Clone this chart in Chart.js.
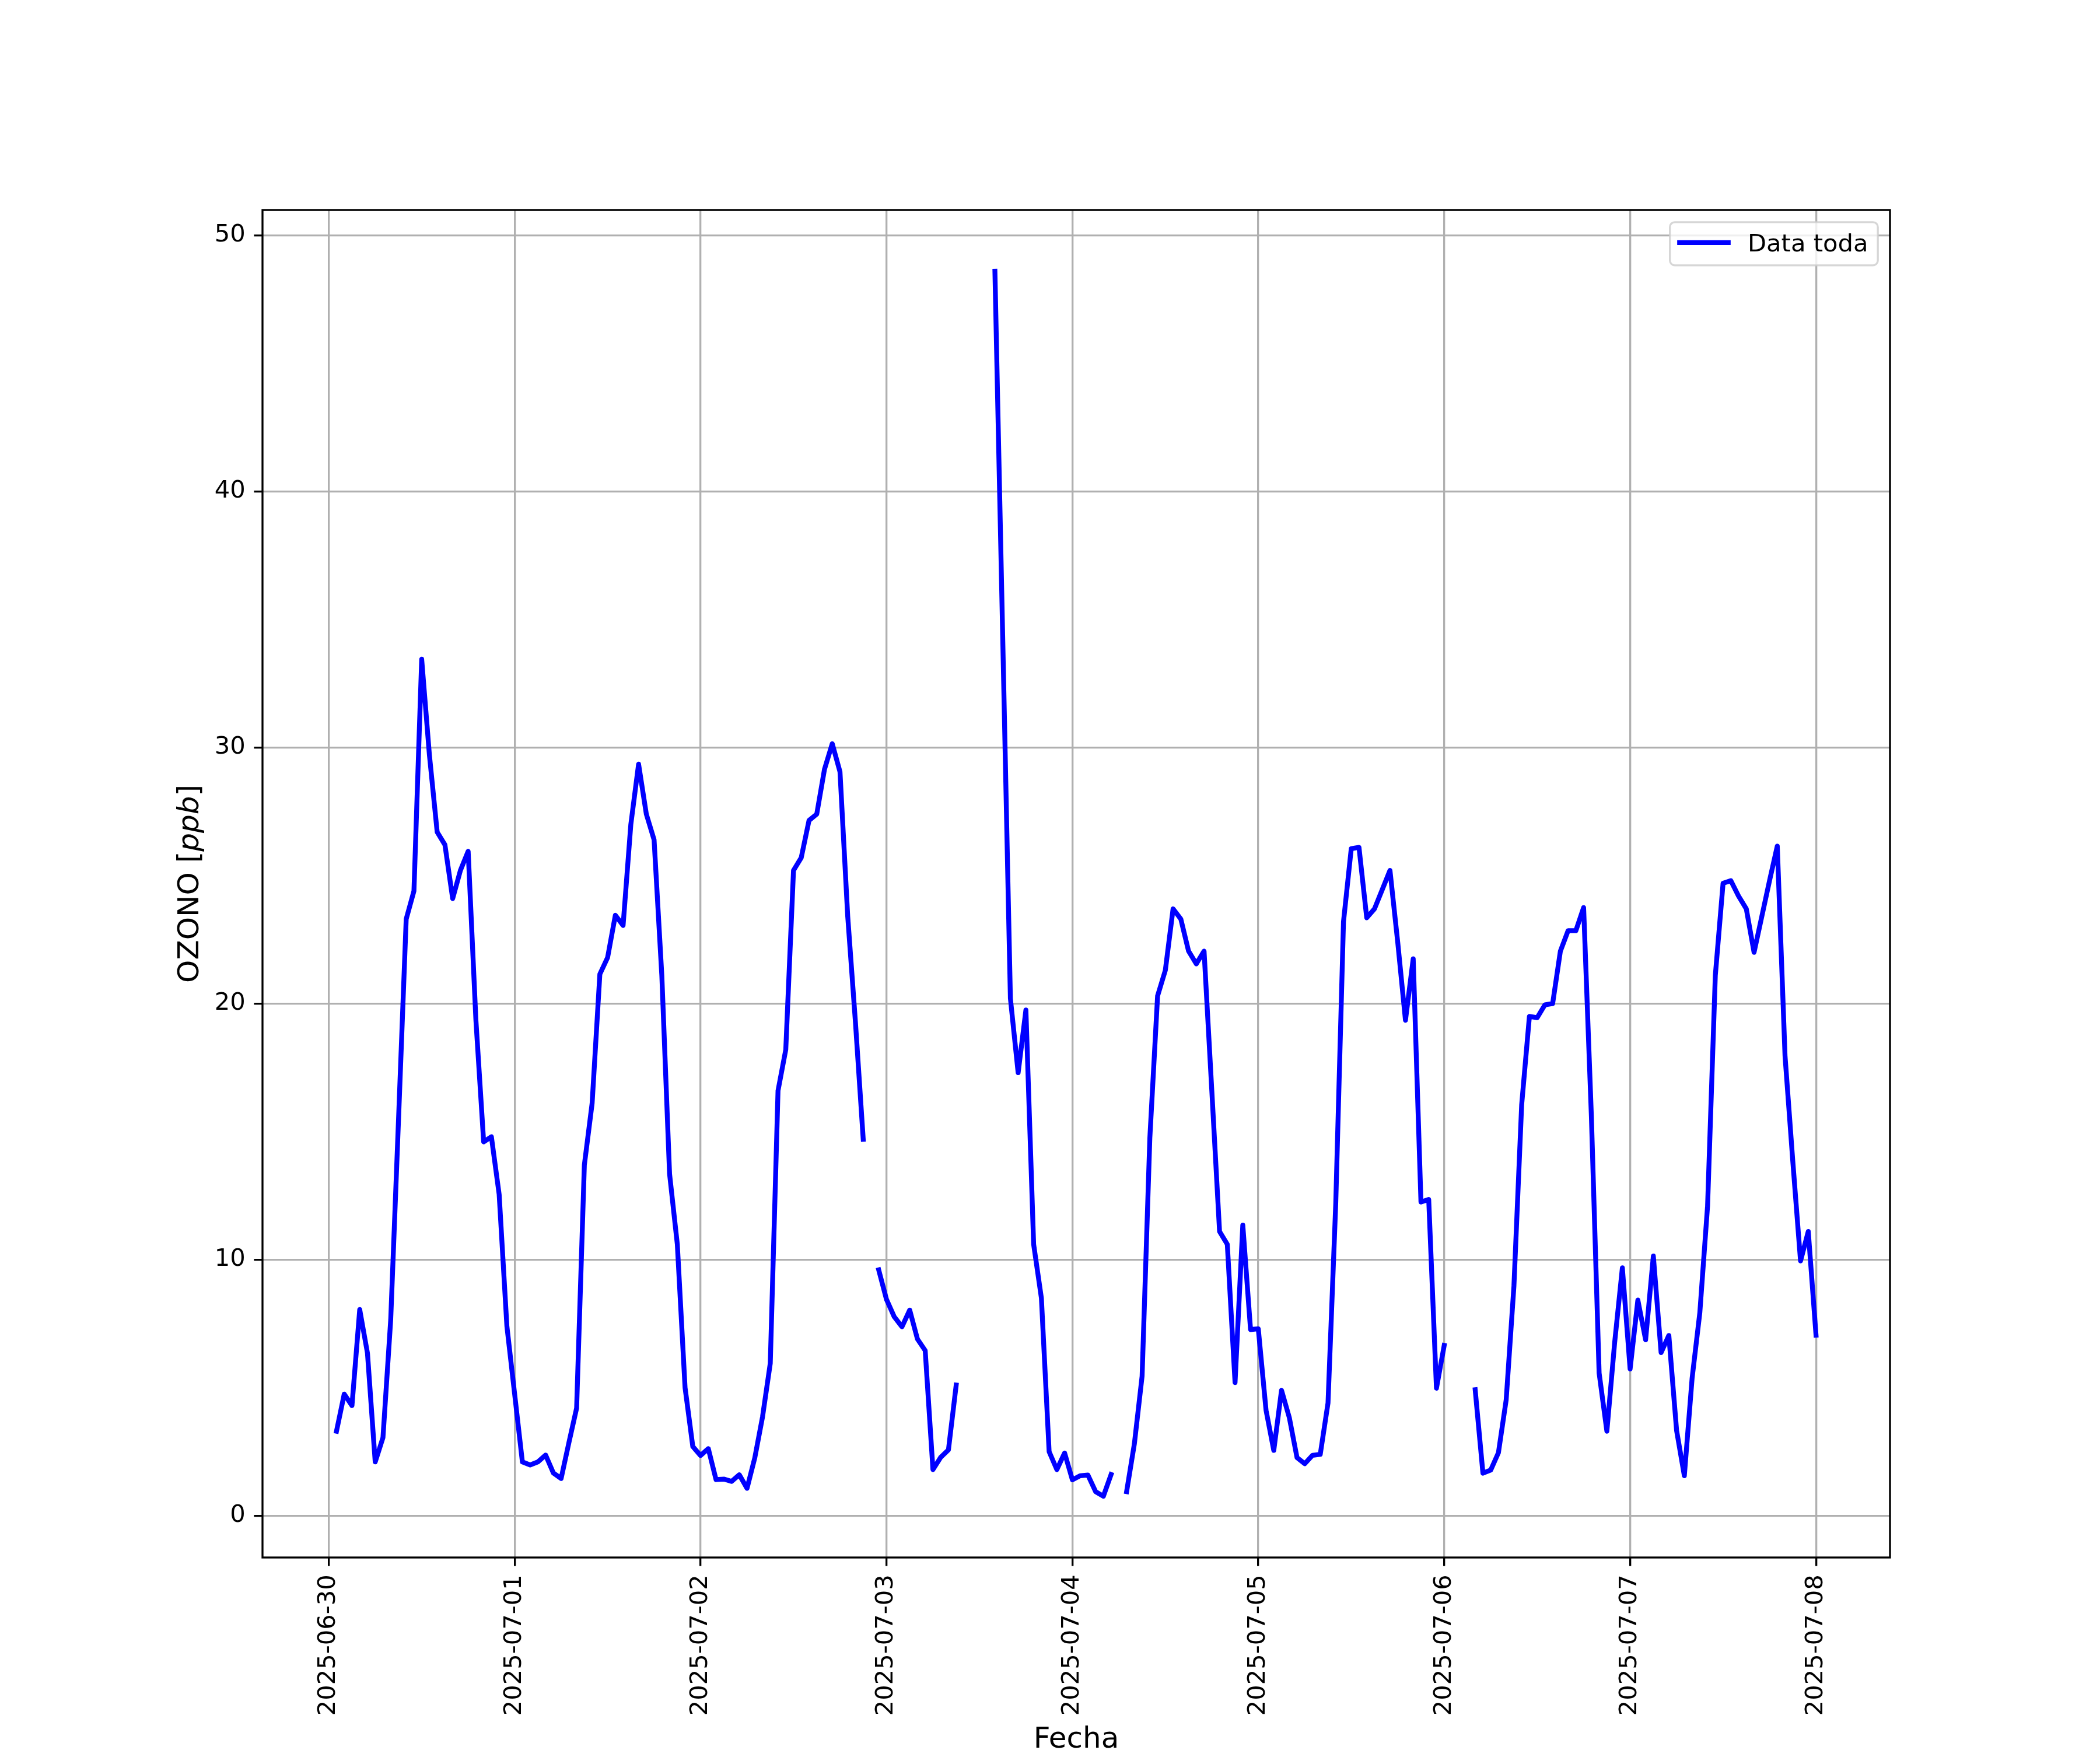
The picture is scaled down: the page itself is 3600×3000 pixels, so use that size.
<!DOCTYPE html>
<html>
<head>
<meta charset="utf-8">
<title>OZONO</title>
<script src="https://cdn.jsdelivr.net/npm/chart.js@4.4.1/dist/chart.umd.min.js"></script>
<style>
    body { margin: 0; background: white; }
    #myChart { display: block; }
</style>
</head>
<body>
<canvas id="myChart" width="3600" height="3000"></canvas>
<script>
// fechas de los ticks del eje x (un dia = 24 horas)
var fechas = ['2025-06-30', '2025-07-01', '2025-07-02', '2025-07-03', '2025-07-04',
              '2025-07-05', '2025-07-06', '2025-07-07', '2025-07-08'];

// ozono horario [ppb], hora 00 a 23 de cada dia (null = sin dato)
var ozono0630 = [null, 3.3, 4.75, 4.3, 8.05, 6.35, 2.1, 3.05, 7.65, 15.4, 23.3, 24.4,
                 33.45, 29.7, 26.7, 26.2, 24.1, 25.2, 25.95, 19.35, 14.6, 14.8, 12.55, 7.4];
var ozono0701 = [4.75, 2.1, 1.98, 2.1, 2.37, 1.67, 1.45, 2.85, 4.2, 13.7, 16.1, 21.15,
                 21.8, 23.45, 23.05, 27.0, 29.35, 27.4, 26.4, 21.1, 13.35, 10.6, 5.0, 2.7];
var ozono0702 = [2.35, 2.62, 1.41, 1.43, 1.34, 1.6, 1.07, 2.26, 3.86, 5.95, 16.6, 18.2,
                 25.2, 25.7, 27.15, 27.4, 29.15, 30.15, 29.05, 23.4, 19.25, 14.7, null, 9.6];
var ozono0703 = [8.45, 7.77, 7.38, 8.03, 6.9, 6.45, 1.8, 2.28, 2.57, 5.1, null, null,
                 null, null, 48.6, 34.4, 20.2, 17.3, 19.75, 10.6, 8.5, 2.5, 1.8, 2.45];
var ozono0704 = [1.4, 1.56, 1.59, 0.94, 0.76, 1.61, null, 0.94, 2.8, 5.45, 14.75, 20.3,
                 21.3, 23.7, 23.3, 22.05, 21.55, 22.05, 16.6, 11.1, 10.6, 5.2, 11.35, 7.27];
var ozono0705 = [7.3, 4.12, 2.55, 4.9, 3.84, 2.27, 2.03, 2.36, 2.4, 4.4, 12.2, 23.2,
                 26.05, 26.1, 23.35, 23.7, 24.45, 25.2, 22.4, 19.35, 21.75, 12.25, 12.35, 4.98];
var ozono0706 = [6.65, null, null, null, 4.92, 1.66, 1.78, 2.46, 4.52, 8.96, 16.05, 19.5,
                 19.45, 19.95, 20.0, 22.05, 22.85, 22.85, 23.75, 15.6, 5.57, 3.3, 6.75, 9.68];
var ozono0707 = [5.73, 8.42, 6.87, 10.14, 6.37, 7.04, 3.33, 1.56, 5.36, 7.93, 12.1, 21.1,
                 24.7, 24.8, 24.2, 23.7, 22.0, 23.4, 24.8, 26.15, 17.95, 13.85, 9.95, 11.1];
var ozono0708 = [7.05];

var ozonoPorDia = [ozono0630, ozono0701, ozono0702, ozono0703, ozono0704,
                   ozono0705, ozono0706, ozono0707, ozono0708];

var PT = 300 / 72;   // figura de 12x10 pulgadas a 300 dpi
var FONT = 'DejaVu Sans';
var LINEA = 2 * PT;  // grosor de la serie

// x = horas desde 2025-06-30 00:00
var getOzonoData = (dias) => {
    let data = [];
    for (let d = 0; d < dias.length; d++) {
        for (let h = 0; h < dias[d].length; h++) {
            data.push({ x: d * 24 + h, y: dias[d][h] });
        }
    }
    return data;
}

// limites con el margen de 5% que usa matplotlib
var getLimits = (data, key) => {
    let vals = data.filter(p => p.y !== null).map(p => p[key]);
    let lo = Math.min(...vals);
    let hi = Math.max(...vals);
    let m = (hi - lo) * 0.05;
    return { min: lo - m, max: hi + m };
}

var drawYLabel = (ctx, x, y) => {
    const parts = [['OZONO [', ''], ['ppb', 'italic '], [']', '']];
    const size = 12 * PT;
    let total = 0;
    let widths = [];
    for (let i = 0; i < parts.length; i++) {
        ctx.font = parts[i][1] + size + 'px "' + FONT + '"';
        widths.push(ctx.measureText(parts[i][0]).width);
        total += widths[i];
    }
    ctx.save();
    ctx.translate(x, y);
    ctx.rotate(-Math.PI / 2);
    ctx.fillStyle = 'black';
    ctx.textBaseline = 'alphabetic';
    ctx.textAlign = 'left';
    let pos = -total / 2;
    for (let i = 0; i < parts.length; i++) {
        ctx.font = parts[i][1] + size + 'px "' + FONT + '"';
        ctx.fillText(parts[i][0], pos, 0);
        pos += widths[i];
    }
    ctx.restore();
}

var drawLegend = (ctx, area) => {
    const fs = 10 * PT;
    const right = area.right - 0.5 * fs;
    const top = area.top + 0.5 * fs;
    ctx.save();
    ctx.font = fs + 'px "' + FONT + '"';
    const textW = ctx.measureText('Data toda').width;
    const left = right - 0.4 * fs - textW - 0.8 * fs - 2.0 * fs - 0.4 * fs;
    const height = 74;
    ctx.beginPath();
    ctx.roundRect(left, top, right - left, height, 0.2 * fs);
    ctx.fillStyle = 'rgba(255, 255, 255, 0.8)';
    ctx.fill();
    ctx.lineWidth = 0.8 * PT;
    ctx.strokeStyle = 'rgba(204, 204, 204, 0.8)';
    ctx.stroke();

    const lineY = top + 35;
    ctx.beginPath();
    ctx.moveTo(left + 0.4 * fs, lineY);
    ctx.lineTo(left + 2.4 * fs, lineY);
    ctx.lineWidth = LINEA;
    ctx.lineCap = 'square';
    ctx.strokeStyle = 'rgb(0, 0, 255)';
    ctx.stroke();

    ctx.fillStyle = 'black';
    ctx.textBaseline = 'alphabetic';
    ctx.textAlign = 'left';
    ctx.fillText('Data toda', left + 3.2 * fs, top + 50);
    ctx.restore();
}

var figuraPlugin = {
    id: 'figura',
    afterDraw: (chart) => {
        const ctx = chart.ctx;
        const a = chart.chartArea;
        // marco de los ejes (spines)
        ctx.save();
        ctx.strokeStyle = 'black';
        ctx.lineWidth = 0.8 * PT;
        ctx.strokeRect(a.left, a.top, a.right - a.left, a.bottom - a.top);
        ctx.restore();

        drawYLabel(ctx, 340, (a.top + a.bottom) / 2);

        ctx.save();
        ctx.font = 12 * PT + 'px "' + FONT + '"';
        ctx.fillStyle = 'black';
        ctx.textAlign = 'center';
        ctx.textBaseline = 'alphabetic';
        ctx.fillText('Fecha', (a.left + a.right) / 2, 2996);
        ctx.restore();

        drawLegend(ctx, a);
    }
}

window.onload = () => {
    const ctx = document.getElementById('myChart').getContext('2d');
    const ozonoData = getOzonoData(ozonoPorDia);
    const xLim = getLimits(ozonoData, 'x');
    const yLim = getLimits(ozonoData, 'y');
    const tickFont = { family: FONT, size: 10 * PT };

    new Chart(ctx, {
        type: 'line',
        data: {
            datasets: [{
                label: 'Data toda',
                data: ozonoData,
                borderColor: 'rgb(0, 0, 255)',
                backgroundColor: 'rgb(0, 0, 255)',
                borderWidth: LINEA,
                borderCapStyle: 'square',
                borderJoinStyle: 'round',
                pointRadius: 0,
                spanGaps: false,
                fill: false
            }]
        },
        options: {
            responsive: false,
            devicePixelRatio: 1,
            animation: false,
            events: [],
            layout: { padding: { top: 360, right: 360, bottom: 0, left: 0 } },
            plugins: {
                legend: { display: false },
                tooltip: { enabled: false }
            },
            scales: {
                x: {
                    type: 'linear',
                    min: xLim.min,
                    max: xLim.max,
                    afterBuildTicks: (scale) => {
                        scale.ticks = fechas.map((f, i) => ({ value: i * 24 }));
                    },
                    afterFit: (scale) => { scale.height = 330; },
                    ticks: {
                        autoSkip: false,
                        minRotation: 90,
                        maxRotation: 90,
                        padding: 3.5 * PT,
                        color: 'black',
                        font: tickFont,
                        callback: (value, index) => fechas[index]
                    },
                    grid: {
                        color: '#b0b0b0',
                        lineWidth: 0.8 * PT,
                        tickColor: 'black',
                        tickWidth: 0.8 * PT,
                        tickLength: 3.5 * PT
                    },
                    border: { display: false }
                },
                y: {
                    type: 'linear',
                    min: yLim.min,
                    max: yLim.max,
                    afterBuildTicks: (scale) => {
                        let t = [];
                        for (let v = 0; v <= 50; v += 10) t.push({ value: v });
                        scale.ticks = t;
                    },
                    afterFit: (scale) => { scale.width = 450; },
                    ticks: {
                        padding: 3.5 * PT,
                        color: 'black',
                        font: tickFont,
                        callback: (value) => String(value)
                    },
                    grid: {
                        color: '#b0b0b0',
                        lineWidth: 0.8 * PT,
                        tickColor: 'black',
                        tickWidth: 0.8 * PT,
                        tickLength: 3.5 * PT
                    },
                    border: { display: false }
                }
            }
        },
        plugins: [figuraPlugin]
    });
}
</script>
</body>
</html>
